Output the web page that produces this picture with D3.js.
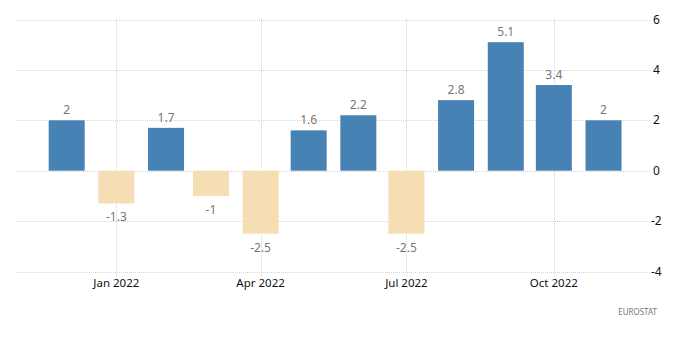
<!DOCTYPE html>
<html lang="en">
<head>
  <meta charset="UTF-8" />
  <title>Monthly change</title>
  <style>
    body { margin: 0; background: #fff; }
    svg { display: block; font-family: "Noto Sans", sans-serif; }
  </style>
  <script src="https://d3js.org/d3.v7.min.js"></script>
</head>
<body>
<svg id="chart" width="700" height="363"></svg>
<script>
  // data
  const months = ['2021-12', '2022-01', '2022-02', '2022-03', '2022-04', '2022-05',
                  '2022-06', '2022-07', '2022-08', '2022-09', '2022-10', '2022-11'];
  const values = [2, -1.3, 1.7, -1, -2.5, 1.6, 2.2, -2.5, 2.8, 5.1, 3.4, 2];
  const yTicks = [6, 4, 2, 0, -2, -4];
  const xTicks = ['2022-01', '2022-04', '2022-07', '2022-10'];

  const parse = d3.timeParse('%Y-%m');
  const svg = d3.select('#chart');

  const x = d3.scaleTime()
    .domain([new Date(2021, 9, 31), new Date(2022, 10, 30)])
    .range([17, 650]);
  const y = d3.scaleLinear().domain([-4, 6]).range([271.5, 19.5]);

  // grid
  svg.append('g').selectAll('line').data(yTicks).join('line')
    .attr('x1', 17).attr('x2', 650)
    .attr('y1', d => Math.round(y(d)) + 0.5).attr('y2', d => Math.round(y(d)) + 0.5)
    .attr('stroke', '#d4d4d4').attr('stroke-dasharray', '1,1');

  svg.append('g').selectAll('line').data(xTicks).join('line')
    .attr('x1', d => Math.round(x(parse(d))) + 0.5).attr('x2', d => Math.round(x(parse(d))) + 0.5)
    .attr('y1', 19).attr('y2', 276)
    .attr('stroke', '#d4d4d4').attr('stroke-dasharray', '1,1');

  // bars
  const bw = 36;
  svg.append('g').selectAll('rect').data(values).join('rect')
    .attr('x', (d, i) => x(parse(months[i])) - bw / 2)
    .attr('width', bw)
    .attr('y', d => y(Math.max(0, d)))
    .attr('height', d => Math.abs(y(d) - y(0)))
    .attr('fill', d => d >= 0 ? '#4682b4' : '#f5deb3');

  // value labels
  svg.append('g').selectAll('text').data(values).join('text')
    .attr('x', (d, i) => x(parse(months[i])))
    .attr('y', d => d >= 0 ? y(d) - 6 : y(d) + 18)
    .attr('text-anchor', 'middle')
    .attr('font-size', 12)
    .attr('fill', '#777')
    .text(d => d);

  // y axis labels (right)
  svg.append('g').selectAll('text').data(yTicks).join('text')
    .attr('x', d => d < 0 ? 651 : 653)
    .attr('y', d => y(d) + 4)
    .attr('font-size', 12)
    .attr('fill', '#111')
    .text(d => d);

  // x axis labels
  const fmt = d3.timeFormat('%b %Y');
  svg.append('g').selectAll('text').data(xTicks).join('text')
    .attr('x', d => x(parse(d)))
    .attr('y', 287)
    .attr('text-anchor', 'middle')
    .attr('font-size', 11.5)
    .attr('fill', '#111')
    .text(d => fmt(parse(d)));

  svg.append('text')
    .attr('x', 657).attr('y', 315)
    .attr('text-anchor', 'end')
    .attr('font-size', 8)
    .attr('fill', '#777')
    .text('EUROSTAT');
</script>
</body>
</html>
